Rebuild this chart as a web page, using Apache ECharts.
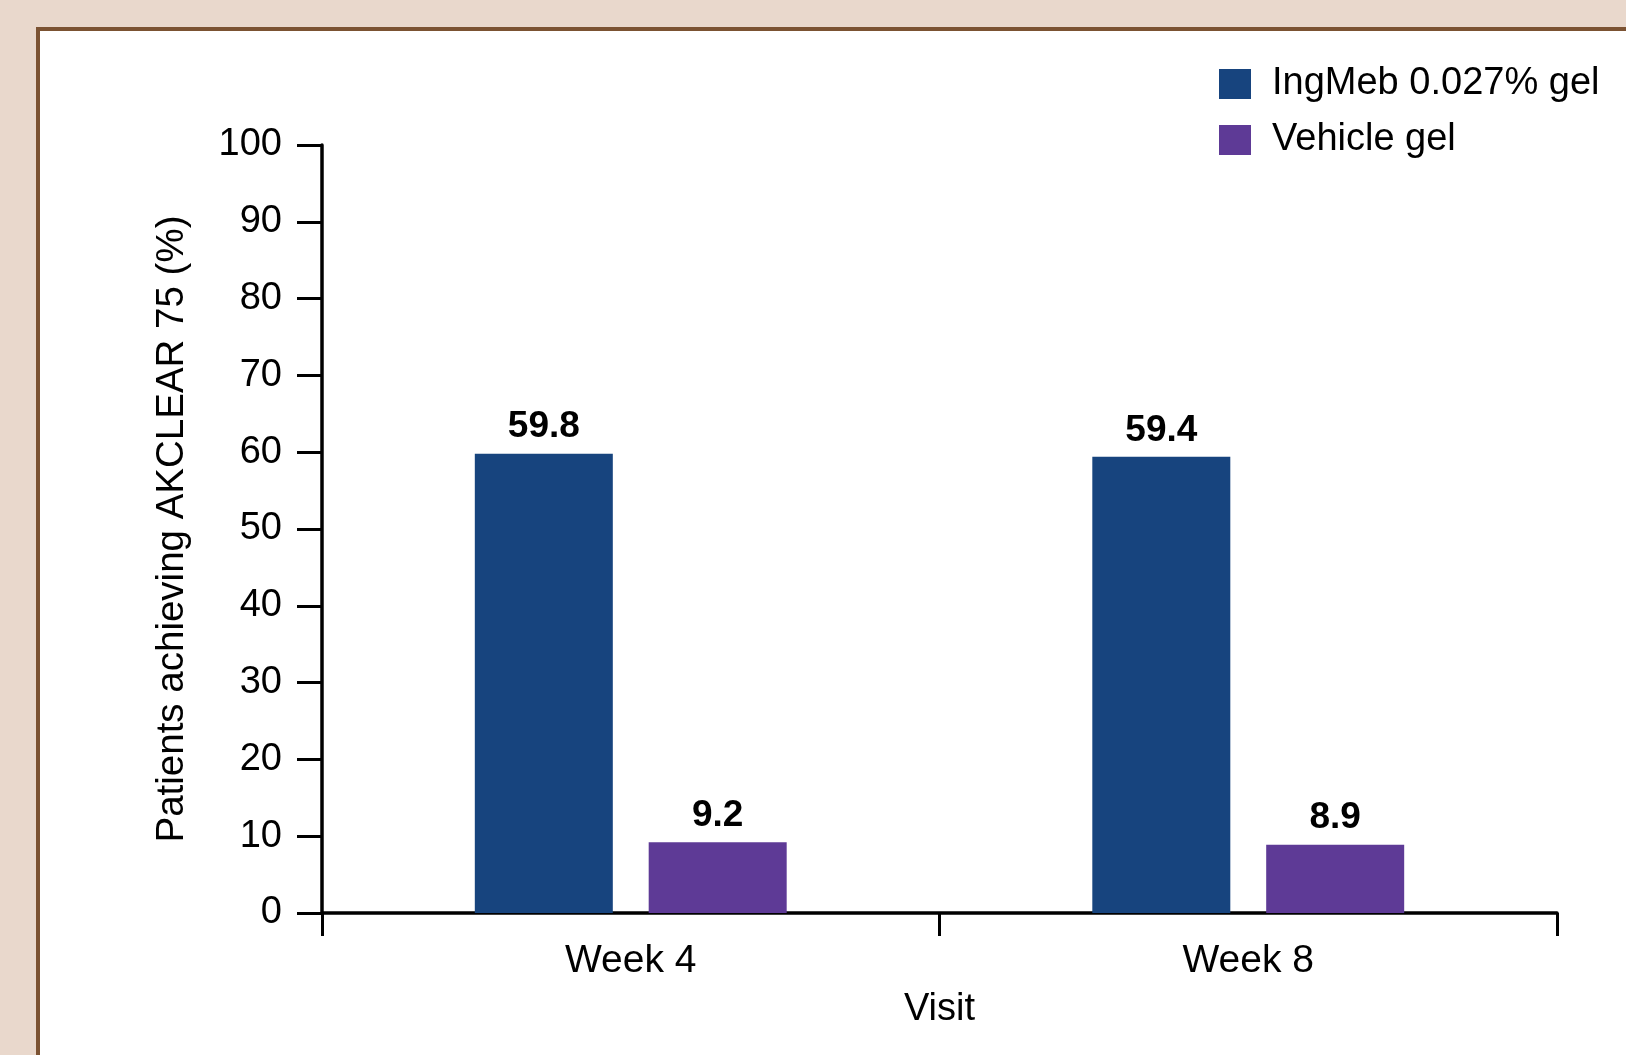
<!DOCTYPE html>
<html>
<head>
<meta charset="utf-8">
<script src="https://cdn.jsdelivr.net/npm/echarts@6/dist/echarts.min.js"></script>
<style>
  html, body { margin: 0; padding: 0; width: 1626px; height: 1055px; overflow: hidden; background: #e9d8cc; }
  #frame { position: absolute; left: 36px; top: 27px; width: 1640px; height: 1100px; background: #ffffff; border: 4px solid #7b5232; box-sizing: border-box; }
  #chart { position: absolute; left: 0; top: 0; width: 1626px; height: 1055px; }
</style>
</head>
<body>
<div id="frame"></div>
<div id="chart"></div>
<script>
// Visits on the x axis
const visits = ['Week 4', 'Week 8'];
// Percentage of patients achieving AKCLEAR 75 at each visit
const ingMebValues = [59.8, 59.4];
const vehicleValues = [9.2, 8.9];
// Series names as shown in the legend
const seriesNames = ['IngMeb 0.027% gel', 'Vehicle gel'];
// Y axis scale
const yMin = 0, yMax = 100, yStep = 10;

const FONT = 'Liberation Sans, Arial, sans-serif';
const chart = echarts.init(document.getElementById('chart'), null, { renderer: 'canvas' });

const labelStyle = {
  show: true,
  position: 'top',
  distance: 8,
  color: '#000',
  fontFamily: FONT,
  fontWeight: 'bold',
  fontSize: 37,
  formatter: p => p.value.toFixed(1)
};

chart.setOption({
  backgroundColor: 'transparent',
  animation: false,
  textStyle: { fontFamily: FONT },
  grid: { left: 322, right: 69, top: 145, bottom: 142, containLabel: false },
  legend: {
    orient: 'vertical',
    left: 1214,
    top: 60,
    itemWidth: 32,
    itemHeight: 30,
    itemGap: 18,
    icon: 'rect',
    textStyle: { fontFamily: FONT, fontSize: 38, color: '#000', padding: [0, 0, 0, 16] },
    data: seriesNames
  },
  xAxis: {
    type: 'category',
    data: visits,
    name: 'Visit',
    nameLocation: 'middle',
    nameGap: 78,
    nameTextStyle: { fontFamily: FONT, fontSize: 38, color: '#000' },
    axisLine: { lineStyle: { color: '#000', width: 3.5 } },
    axisTick: { show: true, length: 23, lineStyle: { color: '#000', width: 3 } },
    axisLabel: { color: '#000', fontFamily: FONT, fontSize: 39, margin: 29 }
  },
  yAxis: {
    type: 'value',
    min: yMin,
    max: yMax,
    interval: yStep,
    name: 'Patients achieving AKCLEAR 75 (%)',
    nameLocation: 'middle',
    nameGap: 130,
    nameRotate: 90,
    nameTextStyle: { fontFamily: FONT, fontSize: 38.5, color: '#000' },
    splitLine: { show: false },
    axisLine: { show: true, lineStyle: { color: '#000', width: 3.5 } },
    axisTick: { show: true, length: 25, lineStyle: { color: '#000', width: 3 } },
    axisLabel: { color: '#000', fontFamily: FONT, fontSize: 38, margin: 40 }
  },
  series: [
    {
      name: seriesNames[0],
      type: 'bar',
      data: ingMebValues,
      barWidth: 138,
      barGap: '26%',
      itemStyle: { color: '#17447e' },
      label: labelStyle
    },
    {
      name: seriesNames[1],
      type: 'bar',
      data: vehicleValues,
      barWidth: 138,
      itemStyle: { color: '#5e3a96' },
      label: labelStyle
    }
  ]
});
</script>
</body>
</html>
